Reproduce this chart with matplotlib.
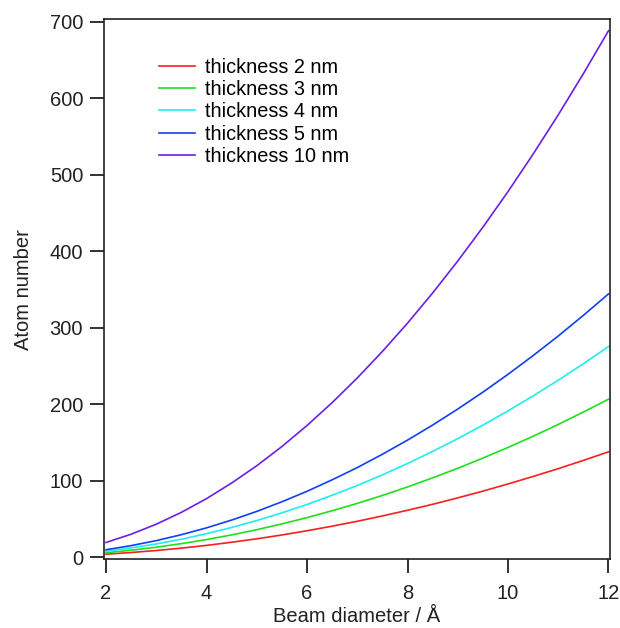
import matplotlib
matplotlib.use("Agg")
import matplotlib.pyplot as plt

plt.rcParams['font.family'] = ['Liberation Sans', 'DejaVu Sans']

diameter = [2, 2.5, 3, 3.5, 4, 4.5, 5, 5.5, 6, 6.5, 7, 7.5, 8, 8.5, 9, 9.5, 10, 10.5, 11, 11.5, 12]

atoms_2nm = [3.8, 6.0, 8.6, 11.7, 15.3, 19.4, 23.9, 28.9, 34.4, 40.4, 46.8, 53.8, 61.2, 69.0, 77.4, 86.2, 95.6, 105.4, 115.6, 126.4, 137.6]
atoms_3nm = [5.7, 9.0, 12.9, 17.6, 22.9, 29.0, 35.8, 43.4, 51.6, 60.6, 70.2, 80.6, 91.7, 103.6, 116.1, 129.4, 143.3, 158.0, 173.4, 189.6, 206.4]
atoms_4nm = [7.6, 12.0, 17.2, 23.4, 30.6, 38.7, 47.8, 57.8, 68.8, 80.8, 93.6, 107.5, 122.3, 138.1, 154.8, 172.5, 191.1, 210.7, 231.2, 252.8, 275.2]
atoms_5nm = [9.6, 15.0, 21.5, 29.3, 38.2, 48.4, 59.7, 72.3, 86.0, 101.0, 117.0, 134.4, 152.9, 172.6, 193.5, 215.6, 238.9, 263.4, 289.0, 316.0, 344.0]
atoms_10nm = [19.1, 29.9, 43.0, 58.5, 76.4, 96.8, 119.4, 144.5, 172.0, 201.9, 234.1, 268.8, 305.8, 345.2, 387.0, 431.2, 477.8, 526.8, 578.1, 631.9, 688.0]

labels = ["thickness 2 nm", "thickness 3 nm", "thickness 4 nm", "thickness 5 nm", "thickness 10 nm"]
series = [atoms_2nm, atoms_3nm, atoms_4nm, atoms_5nm, atoms_10nm]
colors = ['#f52020', '#1ee01e', '#1eeeee', '#1040f5', '#6a1fe8']

xticks = [2, 4, 6, 8, 10, 12]
yticks = [0, 100, 200, 300, 400, 500, 600, 700]

fig = plt.figure(figsize=(6.2, 6.28), dpi=100)
ax = fig.add_axes([104/620, 1 - 559/628, (609.5 - 104)/620, (559 - 19.3)/628])

for vals, lab, c in zip(series, labels, colors):
    ax.plot(diameter, vals, color=c, lw=1.2, label=lab)

ax.set_xlim(1.96, 12.02)
ax.set_ylim(-2.5, 703)
ax.set_xticks(xticks)
ax.set_yticks(yticks)
ax.tick_params(direction='out', length=10, width=1.3, labelsize=14.5, colors='#222222', pad=5)
ax.tick_params(axis='x', pad=8)
for s in ax.spines.values():
    s.set_linewidth(1.2)
    s.set_color('#222222')

ax.set_xlabel("Beam diameter / Å", fontsize=14.5, color='#222222', labelpad=3)
ax.set_ylabel("Atom number", fontsize=14.5, color='#222222', labelpad=12)

leg = ax.legend(loc='upper left', bbox_to_anchor=(0.108, 0.929), frameon=False,
                fontsize=14.3, handlelength=1.85, handletextpad=0.47, labelspacing=0.17,
                borderpad=0, borderaxespad=0)

fig.savefig("out.png", dpi=100)
